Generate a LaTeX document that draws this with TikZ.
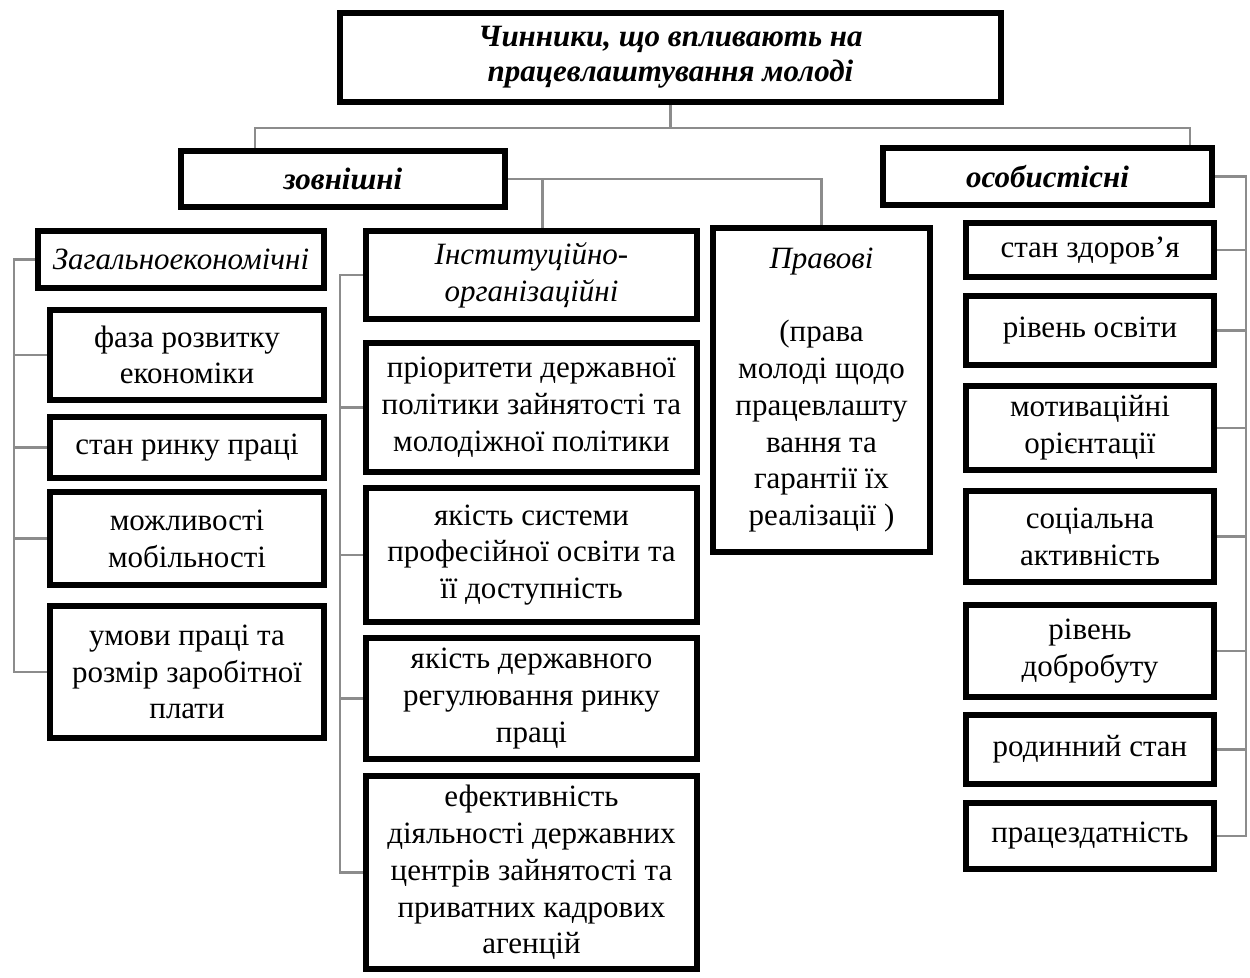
\documentclass[tikz,border=0pt]{standalone}
\usepackage{fontspec}
\setmainfont{Liberation Serif}
\usetikzlibrary{calc}
\definecolor{lnkgray}{HTML}{8C8C8C}

\begin{document}
\begin{tikzpicture}[x=0.5pt,y=-0.5pt,
  fbox/.style={draw=black,line width=3pt,rectangle,align=center,inner sep=1pt,
              font=\fontsize{15.5}{18.4}\selectfont},
  head/.style={fbox,font=\fontsize{15.5}{17.5}\selectfont\bfseries\itshape},
  grp/.style={fbox,font=\fontsize{15.5}{18.4}\selectfont\itshape},
  conn/.style={draw=lnkgray,line width=1.1pt}
]
\useasboundingbox (0,0) rectangle (1250,978);

% Root node
\node[head,minimum width=330.5pt,minimum height=44.5pt]
  (root) at (670.5,57.5) {Чинники, що впливають на\\працевлаштування молоді};

% ---- Two main groups ---------------------------------------
\node[head,minimum width=162pt,minimum height=28pt]
  (ext) at (343,179) {зовнішні};
\node[head,minimum width=164.5pt,minimum height=28.5pt]
  (pers) at (1047.5,176.5) {особистісні};

% ---- External subgroups ------------------------------------
\node[grp,minimum width=143pt,minimum height=28.5pt]
  (econ) at (181,259.5) {Загальноекономічні};
\node[grp,minimum width=165.5pt,minimum height=44pt]
  (inst) at (531.5,275) {Інституційно-\\організаційні};
\node[fbox,minimum width=108.5pt,minimum height=162pt]
  (law) at (821.5,390) {\textit{Правові}\\[18.4pt](права\\молоді щодо\\працевлашту\\вання та\\гарантії їх\\реалізації )};

% ---- Economic factors --------------------------------------
\node[fbox,minimum width=137pt,minimum height=45pt]
  (ec1) at (187,355) {фаза розвитку\\економіки};
\node[fbox,minimum width=137pt,minimum height=30.5pt]
  (ec2) at (187,447.5) {стан ринку праці};
\node[fbox,minimum width=137pt,minimum height=46.5pt]
  (ec3) at (187,538.5) {можливості\\мобільності};
\node[fbox,minimum width=137pt,minimum height=66pt]
  (ec4) at (187,672) {умови праці та\\розмір заробітної\\плати};

% ---- Institutional factors ---------------------------------
\node[fbox,minimum width=165.5pt,minimum height=64.5pt]
  (in1) at (531.5,407.5) {пріоритети державної\\політики зайнятості та\\молодіжної політики};
\node[fbox,minimum width=165.5pt,minimum height=67pt]
  (in2) at (531.5,555) {якість системи\\професійної освіти та\\її доступність};
\node[fbox,minimum width=165.5pt,minimum height=60.5pt]
  (in3) at (531.5,698.5) {якість державного\\регулювання ринку\\праці};
\node[fbox,minimum width=165.5pt,minimum height=96.5pt]
  (in4) at (531.5,872.5) {ефективність\\діяльності державних\\центрів зайнятості та\\приватних кадрових\\агенцій};

% ---- Personal factors --------------------------------------
\node[fbox,minimum width=124pt,minimum height=27pt]
  (pr1) at (1090,250) {стан здоров’я};
\node[fbox,minimum width=124pt,minimum height=34.5pt]
  (pr2) at (1090,330.5) {рівень освіти};
\node[fbox,minimum width=124pt,minimum height=42pt]
  (pr3) at (1090,428) {мотиваційні\\орієнтації};
\node[fbox,minimum width=124pt,minimum height=45.5pt]
  (pr4) at (1090,536.5) {соціальна\\активність};
\node[fbox,minimum width=124pt,minimum height=46pt]
  (pr5) at (1090,651) {рівень\\добробуту};
\node[fbox,minimum width=124pt,minimum height=34.5pt]
  (pr6) at (1090,749.5) {родинний стан};
\node[fbox,minimum width=124pt,minimum height=33pt]
  (pr7) at (1090,836) {працездатність};

% ---- Edges -------------------------------------------------
\draw[conn] (root.south) -- ++(0,23) coordinate (rj)
  -| ($(ext.north west)+(77,0)$);
\draw[conn] (rj) -| ($(pers.north east)+(-25,0)$);
\draw[conn] ($(ext.south west)+(77,0)$) -- ($(ext.south west)+(77,0)$ |- econ.north);
\draw[conn] (ext.east) -| (law.north);
\draw[conn] ($(inst.north)+(11,0)$) |- (ext.east);

% left bracket
\draw[conn] (econ.west) -- ++(-21,0) coordinate (lb) |- (ec4.west);
\foreach \n in {ec1,ec2,ec3}
  \draw[conn] (\n.west) -- (\n.west -| lb);

% middle bracket
\draw[conn] (inst.west) -- ++(-23,0) coordinate (mb) |- (in4.west);
\foreach \n in {in1,in2,in3}
  \draw[conn] (\n.west) -- (\n.west -| mb);

% right bracket
\draw[conn] (pers.east) -- ++(31,0) coordinate (rb) |- (pr7.east);
\foreach \n in {pr1,pr2,pr3,pr4,pr5,pr6}
  \draw[conn] (\n.east) -- (\n.east -| rb);

\end{tikzpicture}
\end{document}
